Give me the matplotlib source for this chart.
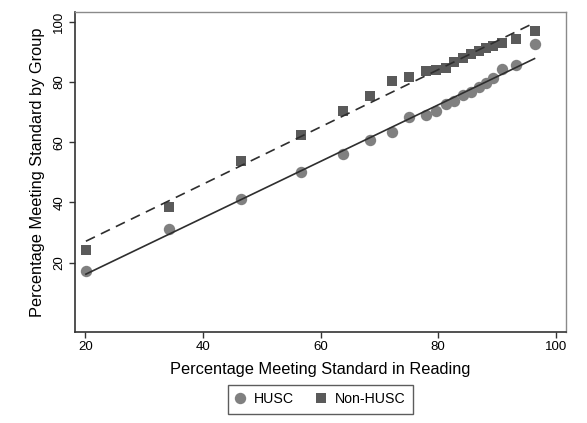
import numpy as np
import matplotlib
matplotlib.use("Agg")
import matplotlib.pyplot as plt

# percentage meeting standard in reading (x) and by group (y)
reading = [20.1, 34.3, 46.5, 56.6, 63.9, 68.5, 72.1, 75.1, 77.9, 79.6,
           81.3, 82.7, 84.2, 85.6, 86.9, 88.1, 89.3, 90.8, 93.2, 96.4]
husc = [17.2, 31.2, 41.1, 50.1, 56.1, 60.7, 63.4, 68.3, 69.0, 70.5,
        72.8, 73.8, 75.7, 76.7, 78.4, 79.6, 81.2, 84.2, 85.6, 92.5]
non_husc = [24.2, 38.5, 53.8, 62.4, 70.5, 75.4, 80.4, 81.5, 83.6, 84.0,
            84.5, 86.6, 88.0, 89.2, 90.4, 91.2, 91.9, 92.8, 94.3, 97.0]
x_ticks = [20, 40, 60, 80, 100]
y_ticks = [20, 40, 60, 80, 100]

plt.rcParams["font.family"] = ["Liberation Sans", "DejaVu Sans"]

fig = plt.figure(figsize=(5.87, 4.23), dpi=100)
ax = fig.add_axes([0.1278, 0.2158, 0.8364, 0.7552])

x = np.array(reading)
xs = np.array([x.min(), x.max()])

# fitted lines
b1 = np.polyfit(x, husc, 1)
b2 = np.polyfit(x, non_husc, 1)
ax.plot(xs, np.polyval(b1, xs), color="#2e2e2e", lw=1.2, zorder=3)
ax.plot(xs, np.polyval(b2, xs), color="#2e2e2e", lw=1.2, ls=(0, (6, 4)), zorder=3)

ax.plot(x, husc, "o", color="#808080", ms=8.2, mew=0, label="HUSC", zorder=2)
ax.plot(x, non_husc, "s", color="#5a5a5a", ms=7.8, mew=0, label="Non-HUSC", zorder=2)

ax.set_xlim(18.25, 101.75)
ax.set_ylim(-2.9, 103.1)
ax.set_xticks(x_ticks)
ax.set_yticks(y_ticks)
ax.tick_params(direction="out", length=4, width=1, color="#333333", labelsize=9.5, pad=3)
for lab in ax.get_yticklabels():
    lab.set_rotation(90)
    lab.set_va("center")

for side in ["left", "bottom"]:
    ax.spines[side].set_color("#333333")
    ax.spines[side].set_linewidth(1.2)
for side in ["top", "right"]:
    ax.spines[side].set_color("#8a8a8a")
    ax.spines[side].set_linewidth(1.0)

ax.set_xlabel("Percentage Meeting Standard in Reading", fontsize=11.8, labelpad=6)
ax.set_ylabel("Percentage Meeting Standard by Group", fontsize=11.8, labelpad=6)

leg = fig.legend(loc="center", bbox_to_anchor=(0.546, 0.056), ncol=2, fontsize=10.2,
                 frameon=True, fancybox=False, edgecolor="#333333",
                 handlelength=0.7, handletextpad=0.6, columnspacing=1.6,
                 borderpad=0.55)
leg.get_frame().set_linewidth(1.0)

fig.savefig("out.png", dpi=100)
plt.close(fig)
